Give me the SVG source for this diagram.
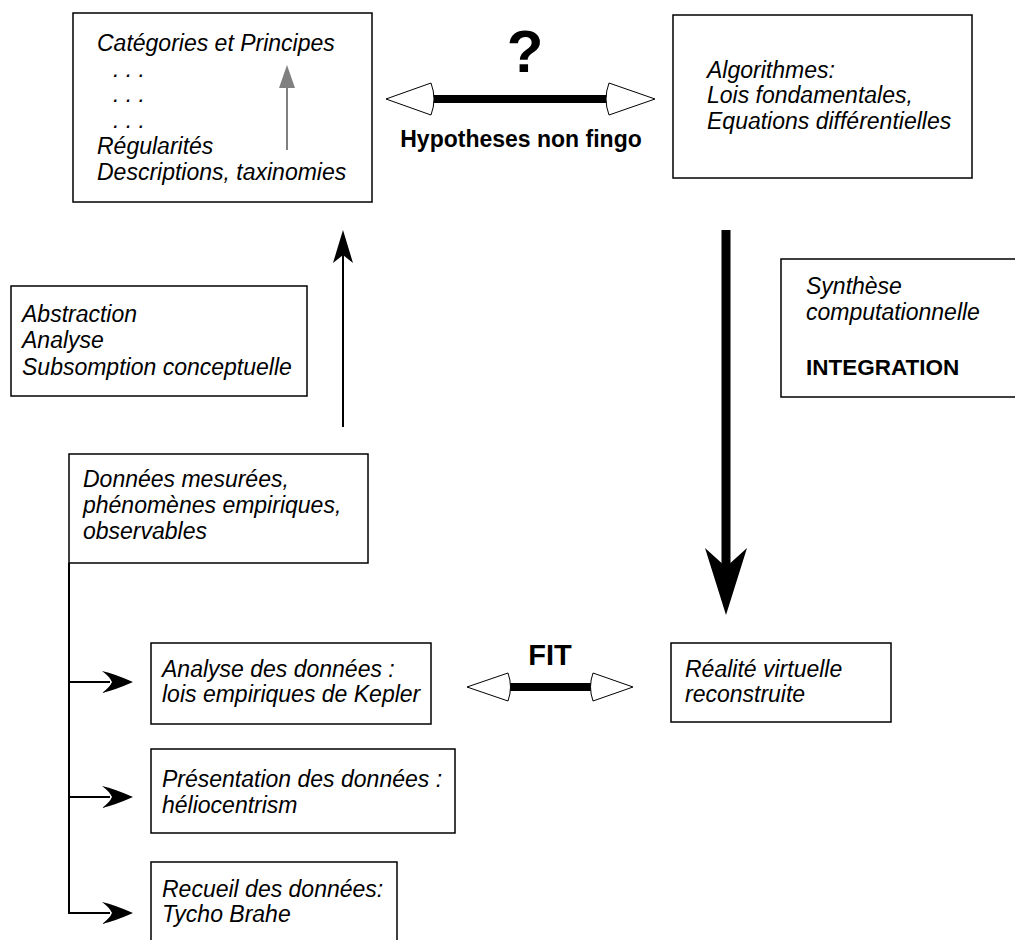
<svg xmlns="http://www.w3.org/2000/svg" width="1015" height="940" viewBox="0 0 1015 940">
<style>
.box{fill:#fff;stroke:#000;stroke-width:1.5}
.t{font-family:"Liberation Sans",Arial,sans-serif;font-size:23px;font-style:italic;fill:#000}
.b{font-family:"Liberation Sans",Arial,sans-serif;font-weight:bold;fill:#000}
.ln{stroke:#000;stroke-width:2;fill:none}
.wh{fill:#fff;stroke:#000;stroke-width:1}
</style>
<rect width="1015" height="940" fill="#fff"/>
<g id="categories">
<rect class="box" x="73" y="13" width="299" height="189"/>
<text class="t" x="97" y="51">Catégories et Principes</text>
<text class="t" x="113" y="77">. . .</text>
<text class="t" x="113" y="102">. . .</text>
<text class="t" x="113" y="128">. . .</text>
<text class="t" x="97" y="154">Régularités</text>
<text class="t" x="97" y="180">Descriptions, taxinomies</text>
<line x1="287" y1="150" x2="287" y2="85" stroke="#808080" stroke-width="2"/>
<path d="M287,65 L295,88 L279,88 Z" fill="#808080"/>
</g>
<g id="algorithmes">
<rect class="box" x="673" y="15" width="299" height="163"/>
<text class="t" x="707" y="78">Algorithmes:</text>
<text class="t" x="707" y="103">Lois fondamentales,</text>
<text class="t" x="707" y="129">Equations différentielles</text>
</g>
<g id="abstraction">
<rect class="box" x="11" y="286" width="296" height="110"/>
<text class="t" x="22" y="322">Abstraction</text>
<text class="t" x="22" y="348">Analyse</text>
<text class="t" x="22" y="375">Subsomption conceptuelle</text>
</g>
<g id="synthese">
<rect class="box" x="781" y="259" width="240" height="138"/>
<text class="t" x="806" y="294">Synthèse</text>
<text class="t" x="806" y="320">computationnelle</text>
<text class="b" x="806" y="375" font-size="22.5">INTEGRATION</text>
</g>
<g id="donnees">
<rect class="box" x="69" y="454" width="299" height="109"/>
<text class="t" x="83" y="487">Données mesurées,</text>
<text class="t" x="83" y="513">phénomènes empiriques,</text>
<text class="t" x="83" y="539">observables</text>
</g>
<g id="analyse">
<rect class="box" x="151" y="643" width="280" height="81"/>
<text class="t" x="162" y="677">Analyse des données :</text>
<text class="t" x="162" y="702">lois empiriques de Kepler</text>
</g>
<g id="presentation">
<rect class="box" x="151" y="749" width="304" height="84"/>
<text class="t" x="162" y="787">Présentation des données :</text>
<text class="t" x="162" y="813">héliocentrism</text>
</g>
<g id="recueil">
<rect class="box" x="151" y="862" width="246" height="90"/>
<text class="t" x="162" y="897">Recueil des données:</text>
<text class="t" x="162" y="922">Tycho Brahe</text>
</g>
<g id="realite">
<rect class="box" x="671" y="643" width="220" height="79"/>
<text class="t" x="685" y="677">Réalité virtuelle</text>
<text class="t" x="685" y="702">reconstruite</text>
</g>
<g id="labels">
<text class="b" x="525" y="72" font-size="60" text-anchor="middle">?</text>
<text class="b" x="521" y="147" font-size="23" text-anchor="middle">Hypotheses non fingo</text>
<text class="b" x="550" y="665" font-size="29" text-anchor="middle">FIT</text>
</g>
<g id="connectors">
<!-- hypotheses double arrow -->
<rect x="430" y="95" width="180" height="8" fill="#000"/>
<path class="wh" d="M386,99 L431,83 Q437,99 431,115 Z"/>
<path class="wh" d="M655,99 L609,83 Q603,99 609,115 Z"/>
<!-- FIT double arrow -->
<rect x="506" y="683" width="89" height="8" fill="#000"/>
<path class="wh" d="M467,687 L508,673 Q513,687 508,701 Z"/>
<path class="wh" d="M633,687 L593,673 Q588,687 593,701 Z"/>
<!-- abstraction up arrow -->
<line class="ln" x1="343" y1="427" x2="343" y2="255"/>
<path d="M343,230 L353,263 L343,255 L333,263 Z" fill="#000"/>
<!-- integration down arrow -->
<line x1="726" y1="230" x2="726" y2="570" stroke="#000" stroke-width="9"/>
<path d="M726,615 L705,548 L726,567 L747,548 Z" fill="#000"/>
<!-- data tree -->
<polyline class="ln" points="69,563 69,913 110,913"/>
<line class="ln" x1="69" y1="682" x2="110" y2="682"/>
<line class="ln" x1="69" y1="797" x2="110" y2="797"/>
<path d="M133,682 Q115,674 102,671 Q110,677 112,682 Q110,687 102,693 Q115,690 133,682 Z" fill="#000"/>
<path d="M133,797 Q115,789 102,786 Q110,792 112,797 Q110,802 102,808 Q115,805 133,797 Z" fill="#000"/>
<path d="M133,913 Q115,905 102,902 Q110,908 112,913 Q110,918 102,924 Q115,921 133,913 Z" fill="#000"/>
</g>
</svg>
